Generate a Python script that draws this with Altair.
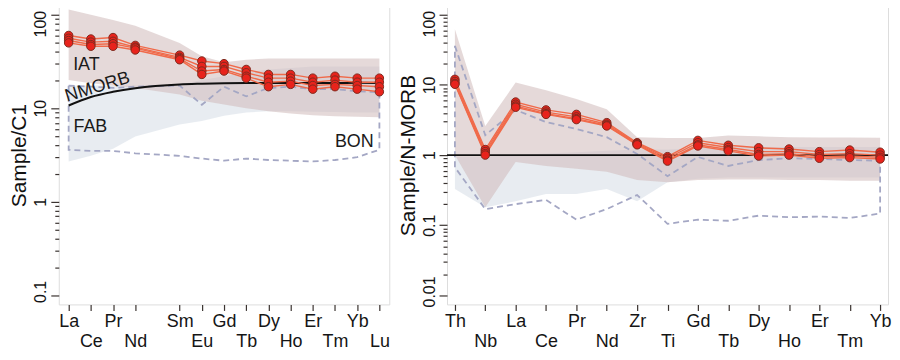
import altair as alt
import pandas as pd

FONT = "Liberation Sans"
DARK = "#3a3330"

# ---------------- Left panel: chondrite (C1) normalised REE ----------------
ree_labels = ["La", "Ce", "Pr", "Nd", "Sm", "Eu", "Gd", "Tb", "Dy", "Ho", "Er", "Tm", "Yb", "Lu"]
ree_pos = [1, 2, 3, 4, 6, 7, 8, 9, 10, 11, 12, 13, 14, 15]
ree_row2 = [2, 4, 7, 9, 11, 13, 15]
ree_s1 = [60, 55, 57, 47, 37, 32, 30, 26, 23, 23, 21, 22, 21, 21]
ree_s2 = [56, 51, 52, 45, 35, 28, 28, 24, 21, 21, 19, 20, 19, 19]
ree_s3 = [53, 48, 49, 44, 34, 25, 26, 22, 19, 19.5, 17.5, 18, 17.5, 17]
ree_s4 = [50, 46, 46, 42, 33, 23, 25, 21, 17, 18, 16, 17, 16, 15]
ree_nmorb = [10.7, 13.2, 15.0, 16.4, 18.0, 18.3, 18.5, 18.6, 18.6, 18.6, 18.6, 18.6, 18.7, 18.6]
ree_iat_hi = [114, 100, 88, 76, 50, 36, 31, 33, 34, 34, 34, 34, 34, 34]
ree_iat_lo = [20, 18.5, 17.5, 16.5, 14, 12, 11, 10, 9.3, 8.8, 8.4, 8.2, 8.1, 8.0]
ree_fab_hi = [17.5, 17.5, 17.5, 17.5, 18, 20, 22, 24, 26, 27, 28, 28, 28, 28]
ree_fab_lo = [2.7, 3.1, 3.7, 5.0, 6.7, 7.3, 8.3, 9.0, 9.3, 9.3, 9.2, 9.1, 9.0, 9.0]
ree_bon_hi = [17.5, 17, 16.5, 17, 17.5, 10.9, 17, 13.4, 16.5, 17, 16, 16, 15.2, 14.8]
ree_bon_lo = [3.6, 3.5, 3.5, 3.3, 3.1, 2.9, 2.75, 2.9, 2.8, 2.75, 2.7, 2.8, 3.0, 3.6]
ree_note_text = ["IAT", "FAB", "BON"]
ree_note_x = [1.8, 1.98, 13.87]
ree_note_y = [29, 6.3, 4.35]
ree_rot_text = ["NMORB"]
ree_rot_x = [2.3]
ree_rot_y = [16.8]

# ---------------- Right panel: N-MORB normalised spider ----------------
sp_labels = ["Th", "Nb", "La", "Ce", "Pr", "Nd", "Zr", "Ti", "Gd", "Tb", "Dy", "Ho", "Er", "Tm", "Yb"]
sp_pos = list(range(1, 16))
sp_row2 = [2, 4, 6, 8, 10, 12, 14]
sp_s1 = [12, 1.2, 5.7, 4.4, 3.8, 2.9, 1.5, 0.95, 1.62, 1.38, 1.27, 1.22, 1.12, 1.18, 1.1]
sp_s2 = [11.2, 1.12, 5.3, 4.1, 3.5, 2.75, 1.47, 0.9, 1.5, 1.28, 1.12, 1.12, 1.02, 1.05, 1.0]
sp_s3 = [10.5, 1.05, 5.0, 3.9, 3.3, 2.65, 1.43, 0.85, 1.4, 1.2, 1.02, 1.05, 0.95, 0.97, 0.93]
sp_s4 = [10.2, 1.0, 4.8, 3.8, 3.2, 2.6, 1.4, 0.82, 1.35, 1.15, 0.97, 1.0, 0.9, 0.92, 0.88]
sp_iat_hi = [62, 2.6, 10.8, 8.4, 6.3, 4.5, 1.8, 1.75, 1.75, 1.9, 1.85, 1.8, 1.78, 1.78, 1.76]
sp_iat_lo = [1.0, 0.18, 0.8, 0.7, 0.64, 0.58, 0.44, 0.41, 0.44, 0.45, 0.45, 0.44, 0.44, 0.43, 0.43]
sp_fab_hi = [0.95, 0.95, 1.0, 1.05, 1.1, 1.15, 1.2, 1.2, 1.25, 1.3, 1.3, 1.3, 1.3, 1.3, 1.3]
sp_fab_lo = [0.33, 0.18, 0.22, 0.28, 0.28, 0.33, 0.22, 0.41, 0.46, 0.48, 0.48, 0.48, 0.48, 0.48, 0.48]
sp_bon_hi = [36, 1.92, 4.4, 2.95, 2.36, 1.8, 1.04, 0.5, 0.94, 0.7, 0.85, 0.9, 0.88, 0.85, 0.83]
sp_bon_lo = [0.67, 0.17, 0.2, 0.23, 0.12, 0.17, 0.27, 0.105, 0.12, 0.116, 0.137, 0.13, 0.133, 0.127, 0.147]
sp_ref = [1.0]


def log_ticks(decades):
    vals = []
    for d in decades[:-1]:
        for m in range(1, 10):
            vals.append(round(m * d, 6))
    vals.append(decades[-1])
    return vals


MAJOR = "abs(log(datum.value)/LN10 - round(log(datum.value)/LN10)) < 0.001"


def panel(pos, labels, row2, samples, iat_hi, iat_lo, fab_hi, fab_lo, bon_hi, bon_lo,
          xdom, ydom, decades, width, ytitle, extra):
    lab_arr = [""] * 16
    for p, l in zip(pos, labels):
        lab_arr[p] = l
    lab_expr = "[" + ",".join("'%s'" % s for s in lab_arr) + "][datum.value]"
    row2_expr = "indexof([" + ",".join(str(v) for v in row2) + "], datum.value) >= 0"
    top_expr = "datum.value > %g" % (decades[-1] * 0.99)
    bot_expr = "datum.value < %g" % (decades[0] * 1.01)

    xax = alt.Axis(values=pos, labelExpr=lab_expr, title=None, grid=False, domain=False,
                   tickSize=6, tickColor=DARK, tickWidth=1.2, labelFontSize=18, labelFont=FONT,
                   labelColor="#151515", labelFlush=False, labelOverlap=False,
                   labelBaseline="top",
                   labelPadding={"condition": {"test": row2_expr, "value": 22}, "value": 2})
    yax = alt.Axis(values=log_ticks(decades), title=ytitle, grid=False, domain=False,
                   labelExpr="(" + MAJOR + ") ? format(datum.value, '~g') : ''",
                   tickSize={"condition": {"test": MAJOR, "value": 8}, "value": 4},
                   labelOffset={"condition": [{"test": top_expr, "value": 9},
                                              {"test": bot_expr, "value": -4}], "value": 0},
                   tickColor=DARK, tickWidth=1.2, labelAngle=270, labelFontSize=16,
                   labelFont=FONT, labelColor="#151515", labelPadding=2, labelOverlap=False,
                   titleFontSize=21, titleFont=FONT, titleFontWeight="normal",
                   titleColor="#111111", titlePadding=3)
    xs = alt.Scale(domain=xdom, nice=False, zero=False)
    ys = alt.Scale(type="log", domain=ydom, nice=False)

    X = alt.X("x:Q", scale=xs, axis=xax)

    fields = pd.DataFrame({"x": pos, "iat_hi": iat_hi, "iat_lo": iat_lo,
                           "fab_hi": fab_hi, "fab_lo": fab_lo})
    fab = alt.Chart(fields).mark_area(color="#cdd4e0", opacity=0.45).encode(
        x=X, y=alt.Y("fab_lo:Q", scale=ys, axis=yax), y2="fab_hi:Q")
    iat = alt.Chart(fields).mark_area(color="#cfb9b9", opacity=0.55).encode(
        x=X, y=alt.Y("iat_lo:Q", scale=ys, axis=yax), y2="iat_hi:Q")

    bx = list(pos) + list(pos[::-1]) + [pos[0]]
    by = list(bon_hi) + list(bon_lo[::-1]) + [bon_hi[0]]
    bon_df = pd.DataFrame({"x": bx, "y": by, "o": list(range(len(bx)))})
    bon = alt.Chart(bon_df).mark_line(color="#a4a7c4", strokeWidth=1.8, strokeDash=[6, 4]).encode(
        x=X, y=alt.Y("y:Q", scale=ys, axis=yax), order="o:Q")

    rows = []
    for name, vals in samples.items():
        for p, v in zip(pos, vals):
            rows.append({"x": p, "y": v, "s": name})
    sdf = pd.DataFrame(rows)
    slines = alt.Chart(sdf).mark_line(color="#f06a4a", strokeWidth=1.4).encode(
        x=X, y=alt.Y("y:Q", scale=ys, axis=yax), detail="s:N")
    spts = alt.Chart(sdf).mark_circle(size=72, color="#e8231c", opacity=1,
                                      stroke="#7e2a1e", strokeWidth=1).encode(
        x=X, y=alt.Y("y:Q", scale=ys, axis=yax), detail="s:N")

    layers = [fab, iat, bon] + extra(X, ys, yax) + [slines, spts]
    return alt.layer(*layers).properties(width=width, height=300)


def left_extra(X, ys, yax):
    nm = pd.DataFrame({"x": ree_pos, "y": ree_nmorb})
    line = alt.Chart(nm).mark_line(color="#111111", strokeWidth=2, interpolate="monotone").encode(
        x=X, y=alt.Y("y:Q", scale=ys, axis=yax))
    notes = pd.DataFrame({"x": ree_note_x, "y": ree_note_y, "t": ree_note_text})
    txt = alt.Chart(notes).mark_text(fontSize=18, font=FONT, color="#1a1a1a").encode(
        x=X, y=alt.Y("y:Q", scale=ys, axis=yax), text="t:N")
    rot = pd.DataFrame({"x": ree_rot_x, "y": ree_rot_y, "t": ree_rot_text})
    rtxt = alt.Chart(rot).mark_text(fontSize=18, font=FONT, color="#1a1a1a", angle=343).encode(
        x=X, y=alt.Y("y:Q", scale=ys, axis=yax), text="t:N")
    return [line, txt, rtxt]


def right_extra(X, ys, yax):
    ref = pd.DataFrame({"y": sp_ref})
    rule = alt.Chart(ref).mark_rule(color="#111111", strokeWidth=1.6).encode(
        y=alt.Y("y:Q", scale=ys, axis=yax))
    return [rule]


left = panel(ree_pos, ree_labels, ree_row2,
             {"a": ree_s1, "b": ree_s2, "c": ree_s3, "d": ree_s4},
             ree_iat_hi, ree_iat_lo, ree_fab_hi, ree_fab_lo, ree_bon_hi, ree_bon_lo,
             [0.555, 15.445], [0.08, 124.6], [0.1, 1, 10, 100], 332, "Sample/C1", left_extra)

right = panel(sp_pos, sp_labels, sp_row2,
              {"a": sp_s1, "b": sp_s2, "c": sp_s3, "d": sp_s4},
              sp_iat_hi, sp_iat_lo, sp_fab_hi, sp_fab_lo, sp_bon_hi, sp_bon_lo,
              [0.74, 15.26], [0.00745, 134], [0.01, 0.1, 1, 10, 100], 443, "Sample/N-MORB",
              right_extra)

chart = alt.hconcat(left, right, spacing=6).properties(
    padding={"left": 0, "top": -4, "right": 0, "bottom": 0}
).configure_view(stroke=DARK, strokeWidth=1.5).configure(font=FONT)

chart.save("out.html", embed_options={"renderer": "svg", "actions": False})
